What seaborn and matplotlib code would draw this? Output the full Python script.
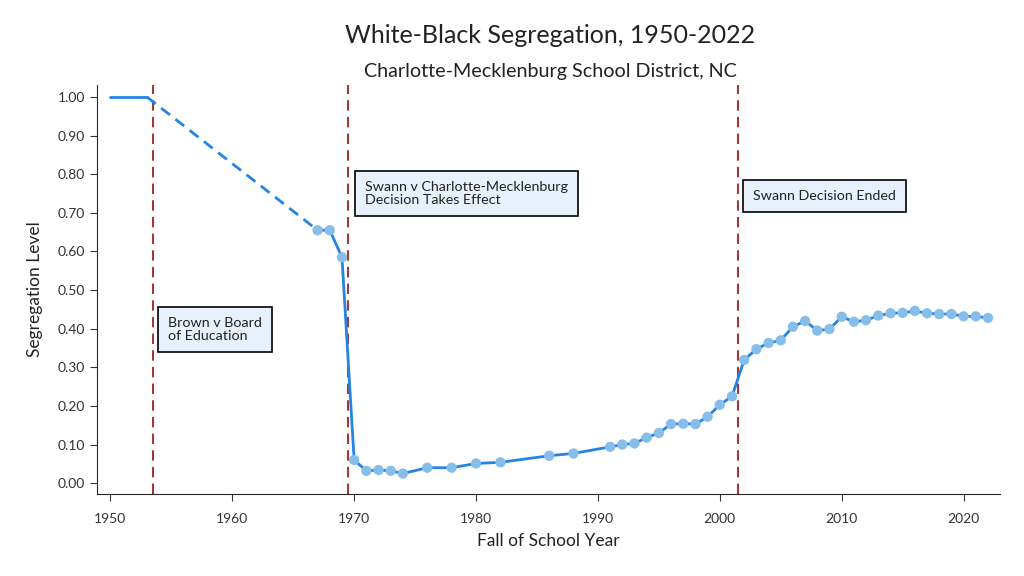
"""White-Black segregation line chart, Charlotte-Mecklenburg."""
import matplotlib
matplotlib.use("Agg")
import matplotlib.pyplot as plt
import pandas as pd
import seaborn as sns

# early years (no markers), then the dashed gap, then observed years
early_years = [1950, 1953]
early_vals = [1.00, 1.00]
gap_years = [1953, 1967]
gap_vals = [1.00, 0.655]

years = [1967, 1968, 1969, 1970, 1971, 1972, 1973, 1974, 1976, 1978, 1980, 1982,
         1986, 1988, 1991, 1992, 1993, 1994, 1995, 1996, 1997, 1998, 1999, 2000,
         2001, 2002, 2003, 2004, 2005, 2006, 2007, 2008, 2009, 2010, 2011, 2012,
         2013, 2014, 2015, 2016, 2017, 2018, 2019, 2020, 2021, 2022]
seg = [0.655, 0.655, 0.585, 0.060, 0.032, 0.034, 0.032, 0.025, 0.040, 0.040, 0.051, 0.054,
       0.071, 0.077, 0.094, 0.100, 0.103, 0.118, 0.130, 0.153, 0.154, 0.153, 0.172, 0.203,
       0.225, 0.319, 0.347, 0.363, 0.370, 0.405, 0.420, 0.395, 0.399, 0.431, 0.418, 0.422,
       0.434, 0.440, 0.441, 0.446, 0.440, 0.438, 0.438, 0.432, 0.432, 0.428]

event_years = [1953.5, 1969.5, 2001.5]
event_labels = ["Brown v Board\nof Education",
                "Swann v Charlotte-Mecklenburg\nDecision Takes Effect",
                "Swann Decision Ended"]
label_pos = [(1954.75, 0.430), (1970.9, 0.782), (2002.7, 0.759)]

sns.set_style("ticks")
plt.rcParams["font.family"] = ["Lato", "DejaVu Sans"]

df = pd.DataFrame({"year": years, "seg": seg})
LINE = "#2484e6"
DOT = "#86bde9"
RED = "#9e3a3a"

fig = plt.figure(figsize=(10.24, 5.76), dpi=100)
ax = fig.add_axes([0.0947, 0.1424, 0.882, 0.71])

sns.lineplot(x=early_years, y=early_vals, color=LINE, linewidth=2, ax=ax)
sns.lineplot(x=gap_years, y=gap_vals, color=LINE, linewidth=2, linestyle=(0, (4, 2.5)), ax=ax)
sns.lineplot(data=df, x="year", y="seg", color=LINE, linewidth=2, ax=ax)
sns.scatterplot(data=df, x="year", y="seg", color=DOT, s=55, edgecolor="none", zorder=5, ax=ax)

for yr in event_years:
    ax.axvline(yr, color=RED, linestyle=(0, (5, 3)), linewidth=1.5, zorder=1)
for (lx, ly), txt in zip(label_pos, event_labels):
    ax.text(lx, ly, txt, fontsize=10.3, va="top", ha="left", color="#222222", linespacing=1.1,
            bbox=dict(boxstyle="square,pad=0.7", facecolor="#e8f1fb", edgecolor="black", linewidth=1.2))

ax.set_xlim(1948.9, 2023)
ax.set_ylim(-0.028, 1.031)
ax.set_xticks(range(1950, 2021, 10))
ax.set_yticks([i / 10 for i in range(11)])
ax.set_yticklabels([f"{i / 10:.2f}" for i in range(11)])
ax.tick_params(labelsize=10, colors="#333333", length=5)
ax.tick_params(axis="x", pad=8.5)
ax.set_xlabel("Fall of School Year", fontsize=12.5, color="#222222", labelpad=6)
ax.set_ylabel("Segregation Level", fontsize=12.5, color="#222222", labelpad=10.5)
sns.despine(ax=ax)

fig.text(0.537, 0.938, "White-Black Segregation, 1950-2022", ha="center", va="center",
         fontsize=18, color="#222222")
fig.text(0.537, 0.875, "Charlotte-Mecklenburg School District, NC", ha="center", va="center",
         fontsize=14.2, color="#222222")

fig.savefig("out.png", dpi=100)
plt.close(fig)
